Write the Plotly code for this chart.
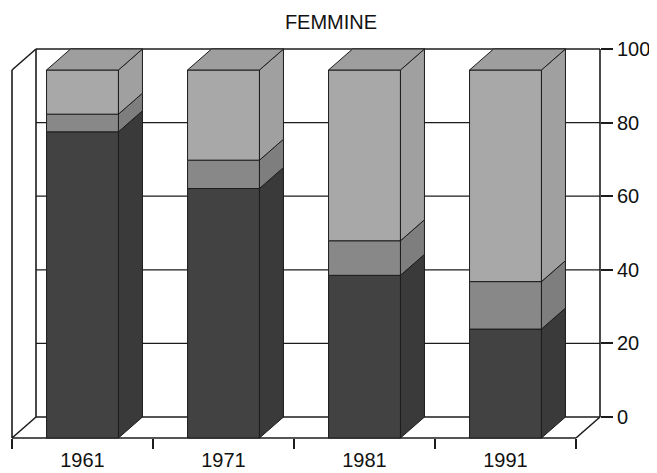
import plotly.graph_objects as go

# ---- data ----
years = ["1961", "1971", "1981", "1991"]
dark_vals = [83.2, 67.8, 44.2, 29.6]
mid_vals = [4.8, 7.7, 9.4, 12.9]
light_vals = [12.0, 24.5, 46.4, 57.5]
y_ticks = [0, 20, 40, 60, 80, 100]
title_text = "FEMMINE"

# ---- geometry (pixels of the 657x473 window) ----
OFF = 8                      # default page margin around the figure
W, H = 657 - OFF, 473 - OFF  # figure size
X0, CAT = 12, 141            # left front edge, px per category
Y0, UNIT = 438, 3.68         # front floor, px per value unit
DXP, DYP = 24, 21            # depth offset
dx, dy = DXP / CAT, DYP / UNIT
half = 0.255
PL, PR, PT, PB = 9, 604, 45, 440
xr = [(PL - X0) / CAT, (PR - X0) / CAT]
yr = [(Y0 - PB) / UNIT, (Y0 - PT) / UNIT]
y2r = [yr[0] - dy, yr[1] - dy]
n = len(years)
top = max(y_ticks)


def fx(px):
    return (px - OFF) / W


def fy(py):
    return 1 - (py - OFF) / H


LINE = "#1c1c1c"
series = [
    (dark_vals, "#424242", "#3a3a3a"),
    (mid_vals, "#888888", "#7e7e7e"),
    (light_vals, "#a8a8a8", "#a0a0a0"),
]
TOPC = "#9e9e9e"

fig = go.Figure()


def poly(xs, ys, fill, width=1.0):
    fig.add_trace(go.Scatter(
        x=xs + [xs[0]], y=ys + [ys[0]], mode="lines", fill="toself",
        fillcolor=fill, line=dict(color=LINE, width=width),
        hoverinfo="skip", showlegend=False))


def seg(xs, ys, width=1.6):
    fig.add_trace(go.Scatter(
        x=xs, y=ys, mode="lines", line=dict(color=LINE, width=width),
        hoverinfo="skip", showlegend=False))


# walls / floor
seg([0, 0], [0, top])
seg([0, dx], [top, top + dy])
seg([0, dx], [0, dy])
seg([dx, dx], [dy, top + dy])
seg([0, n], [0, 0])
seg([n, n + dx], [0, dy])
seg([n + dx, n + dx], [dy, top + dy])
for v in y_ticks:
    seg([dx, n + dx], [v + dy, v + dy], width=1.3)

# bars
for i in range(n):
    c = i + 0.5
    base = 0.0
    for vals, fc, sc in series:
        y0, y1 = base, base + vals[i]
        poly([c - half, c + half, c + half, c - half], [y0, y0, y1, y1], fc)
        poly([c + half, c + half + dx, c + half + dx, c + half],
             [y0, y0 + dy, y1 + dy, y1], sc)
        base = y1
    poly([c - half, c + half, c + half + dx, c - half + dx],
         [base, base, base + dy, base + dy], TOPC)

# invisible trace for the right-hand axis
fig.add_trace(go.Scatter(x=[xr[0]], y=[0], yaxis="y2", mode="markers",
                         marker=dict(opacity=0), hoverinfo="skip",
                         showlegend=False))

FONT = "Liberation Sans, Arial, sans-serif"
fig.update_layout(
    width=W, height=H, template="none",
    margin=dict(l=0, r=0, t=0, b=0),
    paper_bgcolor="white", plot_bgcolor="rgba(0,0,0,0)",
    font=dict(family=FONT, size=20, color="#111111"),
    title=dict(text=title_text, x=fx(331), xanchor="center",
               y=fy(22), yanchor="middle",
               font=dict(family=FONT, size=20, color="#111111")),
    xaxis=dict(domain=[fx(PL), fx(PR)], range=xr, showgrid=False,
               zeroline=False, showline=False,
               anchor="free", position=fy(Y0),
               tickmode="array", tickvals=[i + 0.5 for i in range(n)],
               ticktext=years, ticks="", ticklabelstandoff=8,
               tickfont=dict(size=20),
               minor=dict(tickmode="array", tickvals=list(range(n + 1)),
                          ticks="outside", ticklen=10, tickwidth=1.5,
                          tickcolor=LINE, showgrid=False),
               automargin=False, fixedrange=True),
    yaxis=dict(domain=[fy(PB), fy(PT)], range=yr,
               visible=False, automargin=False, fixedrange=True),
    yaxis2=dict(overlaying="y", anchor="free", position=fx(X0 + n * CAT + DXP),
                side="right", range=y2r, tickmode="array", tickvals=y_ticks,
                ticktext=[str(v) for v in y_ticks],
                ticks="outside", ticklen=12, tickwidth=1.5, tickcolor=LINE,
                showgrid=False, zeroline=False, showline=False,
                tickfont=dict(size=20), automargin=False, fixedrange=True),
)

fig.write_html("out.html")
